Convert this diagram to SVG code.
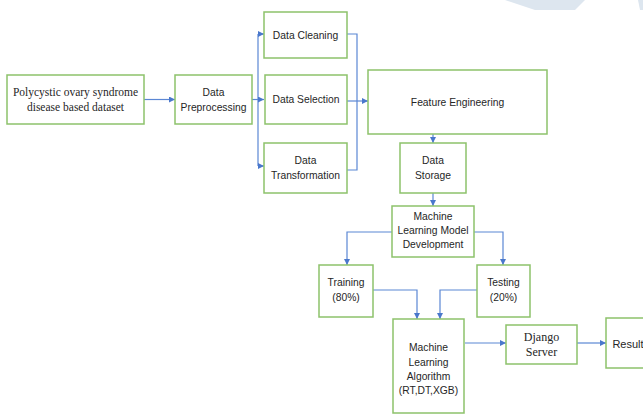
<svg xmlns="http://www.w3.org/2000/svg" width="643" height="415" viewBox="0 0 643 415">
  <style>
    .box { fill: #ffffff; stroke: #8dc26b; stroke-width: 1.5; }
    .lbl { font-family: "Liberation Sans", Arial, sans-serif; font-size: 10.3px; fill: #262626; text-anchor: middle; }
    .ser { font-family: "Liberation Serif", "Times New Roman", serif; font-size: 11.5px; fill: #262626; text-anchor: middle; }
    .big { font-size: 12px; }
    .wire { fill: none; stroke: #5b87d4; stroke-width: 1.2; }
  </style>
  <defs>
    <marker id="arr" viewBox="0 0 10 10" refX="10" refY="5" markerWidth="6" markerHeight="6" markerUnits="userSpaceOnUse" orient="auto">
      <path d="M0,0 L10,5 L0,10 z" fill="#4a78cc"/>
    </marker>
  </defs>
  <rect width="643" height="415" fill="#ffffff"/>
  <!-- faint decoration at the top edge -->
  <path d="M505,0 L585,0 L575,10 L535,10 Z" fill="#dde6ef"/>
  <path d="M638,0 L643,0 L643,10 L640,10 Z" fill="#dde6ef"/>

  <g id="connectors">
    <path class="wire" marker-end="url(#arr)" d="M144,99.5 H175"/>
    <path class="wire" d="M252,99.5 H258"/>
    <path class="wire" d="M258,34 V166"/>
    <path class="wire" marker-end="url(#arr)" d="M258,34 H264"/>
    <path class="wire" marker-end="url(#arr)" d="M258,99.5 H264"/>
    <path class="wire" marker-end="url(#arr)" d="M258,166 H264"/>
    <path class="wire" d="M347,34 H357 V170 H347"/>
    <path class="wire" marker-end="url(#arr)" d="M347,101 H368"/>
    <path class="wire" marker-end="url(#arr)" d="M433,134 V143"/>
    <path class="wire" marker-end="url(#arr)" d="M433,193 V206"/>
    <path class="wire" marker-end="url(#arr)" d="M392,232 H347 V265"/>
    <path class="wire" marker-end="url(#arr)" d="M474,232 H503 V265"/>
    <path class="wire" marker-end="url(#arr)" d="M373,290 H417 V319"/>
    <path class="wire" marker-end="url(#arr)" d="M477,290 H440 V319"/>
    <path class="wire" marker-end="url(#arr)" d="M465,343 H506"/>
    <path class="wire" marker-end="url(#arr)" d="M577,343 H606"/>
  </g>

  <g id="dataset">
    <rect class="box" x="7" y="75" width="137" height="49"/>
    <text class="ser" x="75.5" y="96">Polycystic ovary syndrome</text>
    <text class="ser" x="75.5" y="111">disease based dataset</text>
  </g>
  <g id="preprocessing">
    <rect class="box" x="175" y="75" width="77" height="49"/>
    <text class="lbl" x="213.5" y="96">Data</text>
    <text class="lbl" x="213.5" y="111">Preprocessing</text>
  </g>
  <g id="cleaning">
    <rect class="box" x="264" y="12" width="83" height="46"/>
    <text class="lbl" x="305.5" y="39">Data Cleaning</text>
  </g>
  <g id="selection">
    <rect class="box" x="265" y="75" width="82" height="49"/>
    <text class="lbl" x="306" y="103">Data Selection</text>
  </g>
  <g id="transformation">
    <rect class="box" x="264" y="143" width="83" height="50"/>
    <text class="lbl" x="305.5" y="164">Data</text>
    <text class="lbl" x="305.5" y="179">Transformation</text>
  </g>
  <g id="feature-engineering">
    <rect class="box" x="368" y="70" width="179" height="64"/>
    <text class="lbl" x="457.5" y="106">Feature Engineering</text>
  </g>
  <g id="storage">
    <rect class="box" x="400" y="143" width="66" height="50"/>
    <text class="lbl" x="433" y="164">Data</text>
    <text class="lbl" x="433" y="179">Storage</text>
  </g>
  <g id="model-dev">
    <rect class="box" x="392" y="206" width="82" height="51"/>
    <text class="lbl" x="433" y="220">Machine</text>
    <text class="lbl" x="433" y="234">Learning Model</text>
    <text class="lbl" x="433" y="248">Development</text>
  </g>
  <g id="training">
    <rect class="box" x="319" y="265" width="54" height="52"/>
    <text class="lbl" x="346" y="286">Training</text>
    <text class="lbl" x="346" y="301">(80%)</text>
  </g>
  <g id="testing">
    <rect class="box" x="477" y="265" width="53" height="52"/>
    <text class="lbl" x="503.5" y="286">Testing</text>
    <text class="lbl" x="503.5" y="301">(20%)</text>
  </g>
  <g id="algorithm">
    <rect class="box" x="393" y="319" width="71" height="94"/>
    <text class="lbl" x="428.5" y="351">Machine</text>
    <text class="lbl" x="428.5" y="366">Learning</text>
    <text class="lbl" x="428.5" y="380">Algorithm</text>
    <text class="lbl" x="428.5" y="394">(RT,DT,XGB)</text>
  </g>
  <g id="django">
    <rect class="box" x="506" y="325" width="71" height="39"/>
    <text class="ser big" x="541.5" y="341">Django</text>
    <text class="ser big" x="541.5" y="356">Server</text>
  </g>
  <g id="result">
    <rect class="box" x="606" y="318" width="40" height="50"/>
    <text class="lbl" x="628" y="348" style="font-size:11px">Result</text>
  </g>
</svg>
